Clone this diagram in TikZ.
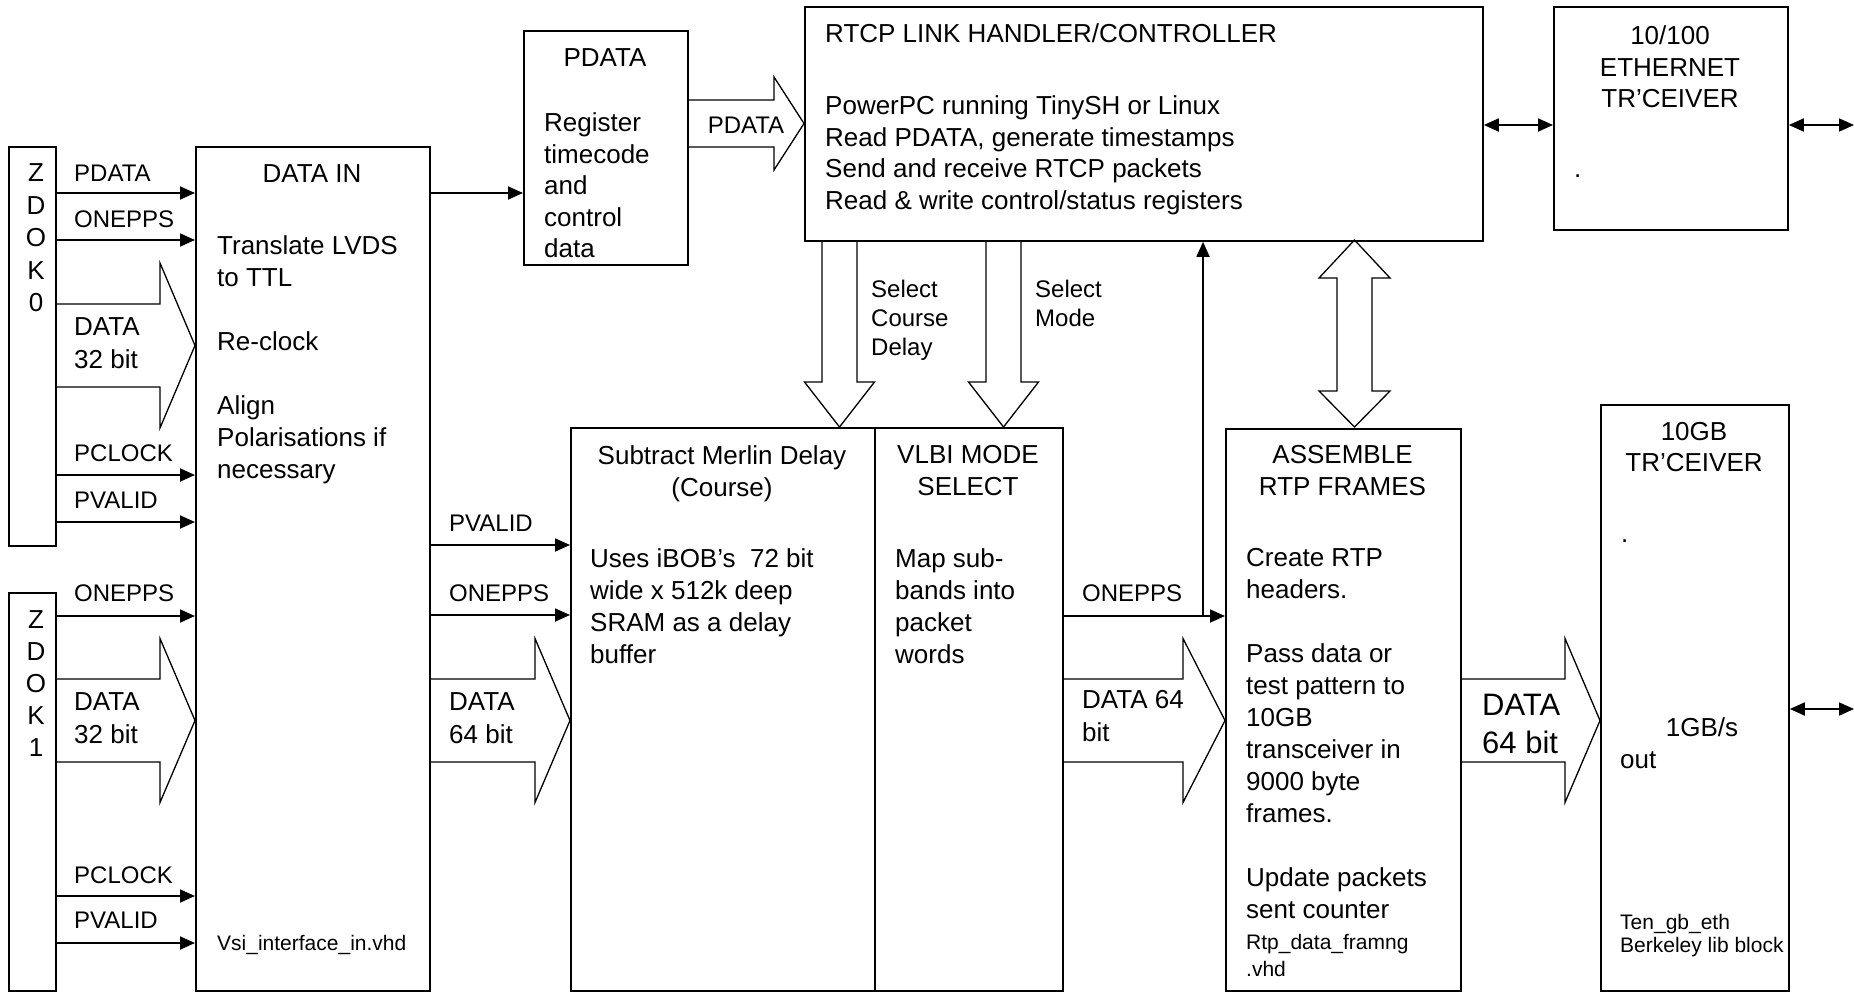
\documentclass[tikz,border=0pt]{standalone}
\usepackage{fontspec}
\setmainfont{Liberation Sans}
\usetikzlibrary{arrows.meta}
\newcommand\fatR[6]{\draw[fat] (#1,#4-#5) -- (#2,#4-#5) -- (#2,#4-#6) -- (#3,#4) -- (#2,#4+#6) -- (#2,#4+#5) -- (#1,#4+#5);}
\newcommand\fatD[6]{\draw[fat] (#1-#5,#2) -- (#1-#5,#3) -- (#1-#6,#3) -- (#1,#4) -- (#1+#6,#3) -- (#1+#5,#3) -- (#1+#5,#2);}
\begin{document}
\begin{tikzpicture}[x=1pt,y=-1pt,
  box/.style={draw, line width=1.8pt, inner sep=0pt, anchor=north west},
  fat/.style={draw, line width=1.3pt, line join=miter},
  sig/.style={line width=1.8pt, -{Triangle[length=15pt,width=13pt]}},
  bidir/.style={line width=1.8pt, {Triangle[length=15pt,width=13pt]}-{Triangle[length=15pt,width=13pt]}},
  big/.style={font=\fontsize{26}{32}\selectfont, inner sep=0pt},
  small/.style={font=\fontsize{24}{29}\selectfont, inner sep=0pt},
  tiny/.style={font=\fontsize{21}{27}\selectfont, inner sep=0pt},
  huge/.style={font=\fontsize{31}{38}\selectfont, inner sep=0pt},
]
\useasboundingbox (0,0) rectangle (1854,993);

% ---------- boxes ----------
\node[box, minimum width=47pt, minimum height=399pt] (zdok0) at (8,146) {};
\node[box, minimum width=47pt, minimum height=398pt] (zdok1) at (8,592) {};
\node[box, minimum width=234pt, minimum height=844pt] (datain) at (195,146) {};
\node[box, minimum width=164pt, minimum height=234pt] (pdata) at (523,30) {};
\node[box, minimum width=678pt, minimum height=234pt] (rtcp) at (804,6) {};
\node[box, minimum width=234pt, minimum height=223pt] (eth) at (1553,6) {};
\node[box, minimum width=304pt, minimum height=563pt] (subtract) at (570,427) {};
\node[box, minimum width=188pt, minimum height=563pt] (vlbi) at (874,427) {};
\node[box, minimum width=235pt, minimum height=562pt] (assemble) at (1225,428) {};
\node[box, minimum width=188pt, minimum height=586pt] (tengb) at (1600,404) {};

% ---------- fat arrows ----------
\fatR{55}{160}{195}{345.5}{41.5}{82.5}
\fatR{55}{160}{195}{720.5}{41.5}{82}
\fatR{429}{535}{570}{720.5}{41.5}{82}
\fatR{1062}{1183}{1225}{720.5}{41.5}{82}
\fatR{1460}{1565}{1600}{720.5}{41.5}{82}
\fatR{687}{774}{804}{123.5}{23.5}{46.5}
\fatD{839.5}{240}{382}{427}{17.5}{35}
\fatD{1003.5}{240}{382}{427}{17.5}{35}
\draw[fat] (1354.5,240) -- (1390,278) -- (1372,278) -- (1372,391) -- (1390,391) -- (1354.5,427)
  -- (1319,391) -- (1337,391) -- (1337,278) -- (1319,278) -- cycle;

% ---------- thin arrows ----------
\draw[sig] (zdok0.east |- 0,193) -- (datain.west |- 0,193);
\draw[sig] (zdok0.east |- 0,240) -- (datain.west |- 0,240);
\draw[sig] (zdok0.east |- 0,475) -- (datain.west |- 0,475);
\draw[sig] (zdok0.east |- 0,522) -- (datain.west |- 0,522);
\draw[sig] (zdok1.east |- 0,616) -- (datain.west |- 0,616);
\draw[sig] (zdok1.east |- 0,896) -- (datain.west |- 0,896);
\draw[sig] (zdok1.east |- 0,943) -- (datain.west |- 0,943);
\draw[sig] (datain.east |- 0,193) -- (pdata.west |- 0,193);
\draw[sig] (datain.east |- 0,545) -- (subtract.west |- 0,545);
\draw[sig] (datain.east |- 0,615) -- (subtract.west |- 0,615);
\draw[sig] (vlbi.east |- 0,616) -- (assemble.west |- 0,616);
\coordinate (tap) at (1203,616);
\draw[sig] (tap) -- (tap |- rtcp.south);
\draw[bidir] (rtcp.east |- 0,125) -- (eth.west |- 0,125);
\coordinate (ethout) at (1854,125);
\draw[bidir] (eth.east |- ethout) -- (ethout);
\coordinate (tgout) at (1854,709);
\draw[bidir] (tengb.east |- tgout) -- (tgout);

% ---------- texts ----------
\node[big, align=center, anchor=north, font=\fontsize{26}{32.5}\selectfont] (zl0) at (36,163.5) {Z\\D\\O\\K\\0};
\node[big, align=center, anchor=north] (zl1) at (36,610.5) {Z\\D\\O\\K\\1};

\node[small, anchor=base west] (l1) at (74,181.3) {PDATA};
\node[small, anchor=base west] (l2) at (74,227.6) {ONEPPS};
\node[small, anchor=base west] (l3) at (74,461.6) {PCLOCK};
\node[small, anchor=base west] (l4) at (74,508.6) {PVALID};
\node[small, anchor=base west] (l5) at (74,601.6) {ONEPPS};
\node[small, anchor=base west] (l6) at (74,883.6) {PCLOCK};
\node[small, anchor=base west] (l7) at (74,928.6) {PVALID};
\node[big, align=left, anchor=north west, font=\fontsize{26}{33}\selectfont] (l8) at (74,317.5) {DATA\\32 bit};
\node[big, align=left, anchor=north west, font=\fontsize{26}{33}\selectfont] (l9) at (74,692.5) {DATA\\32 bit};

\node[big, anchor=base] (tdatain) at (312,182.3) {DATA IN};
\node[big, align=left, anchor=north west] (bdatain) at (217,235.5)
  {Translate LVDS\\to TTL\\[32pt]Re-clock\\[32pt]Align\\Polarisations if\\necessary};
\node[tiny, anchor=base west] (vsi) at (217,950.5) {Vsi\_interface\_in.vhd};

\node[big, anchor=base] (tpdata) at (605,66.3) {PDATA};
\node[big, align=left, anchor=north west, font=\fontsize{26}{31.5}\selectfont] (bpdata) at (544,112.5)
  {Register\\timecode\\and\\control\\data};
\node[small, anchor=base] (lpdata) at (746,133.6) {PDATA};

\node[big, anchor=base west] (trtcp) at (825,42.3) {RTCP LINK HANDLER/CONTROLLER};
\node[big, align=left, anchor=north west, font=\fontsize{26}{31.7}\selectfont] (brtcp) at (825,95.5)
  {PowerPC running TinySH or Linux\\Read PDATA, generate timestamps\\Send and receive RTCP packets\\Read \& write control/status registers};

\node[big, align=center, anchor=north, font=\fontsize{26}{31.5}\selectfont] (teth) at (1670,25.5) {10/100\\ETHERNET\\TR’CEIVER};
\node[big, anchor=base west] (deth) at (1574,177) {.};

\node[small, align=left, anchor=north west] (lsel1) at (871,280.3) {Select\\Course\\Delay};
\node[small, align=left, anchor=north west] (lsel2) at (1035,280.3) {Select\\Mode};

\node[big, align=center, anchor=north] (tsub) at (722,445.5) {Subtract Merlin Delay\\(Course)};
\node[big, align=left, anchor=north west] (bsub) at (590,548.5)
  {Uses iBOB’s~ 72 bit\\wide x 512k deep\\SRAM as a delay\\buffer};

\node[big, align=center, anchor=north] (tvlbi) at (968,445.5) {VLBI MODE\\SELECT};
\node[big, align=left, anchor=north west] (bvlbi) at (895,548.5) {Map sub-\\bands into\\packet\\words};

\node[small, anchor=base west] (l10) at (449,531.6) {PVALID};
\node[small, anchor=base west] (l11) at (449,601.6) {ONEPPS};
\node[big, align=left, anchor=north west, font=\fontsize{26}{33}\selectfont] (l12) at (449,692.5) {DATA\\64 bit};

\node[small, anchor=base west] (l13) at (1082,601.6) {ONEPPS};
\node[big, align=left, anchor=north west, font=\fontsize{26}{33}\selectfont] (l14) at (1082,690.5) {DATA 64\\bit};

\node[big, align=center, anchor=north] (tasm) at (1342.5,445.5) {ASSEMBLE\\RTP FRAMES};
\node[big, align=left, anchor=north west] (basm) at (1246,548.5)
  {Create RTP\\headers.\\[32pt]Pass data or\\test pattern to\\10GB\\transceiver in\\9000 byte\\frames.\\[32pt]Update packets\\sent counter};
\node[tiny, align=left, anchor=north west] (vasm) at (1246,934.5) {Rtp\_data\_framng\\.vhd};

\node[huge, align=left, anchor=north west] (l15) at (1482,694) {DATA\\64 bit};

\node[big, align=center, anchor=north, font=\fontsize{26}{31}\selectfont] (ttg) at (1694,422.5) {10GB\\TR’CEIVER};
\node[big, anchor=base west] (dtg) at (1621,542) {.};
\node[big, anchor=base] (rate) at (1702,736) {1GB/s};
\node[big, anchor=base west] (outtg) at (1620,768) {out};
\node[tiny, align=left, anchor=north west, font=\fontsize{21}{23}\selectfont] (btg) at (1620,914.5) {Ten\_gb\_eth\\Berkeley lib block};
\end{tikzpicture}
\end{document}
